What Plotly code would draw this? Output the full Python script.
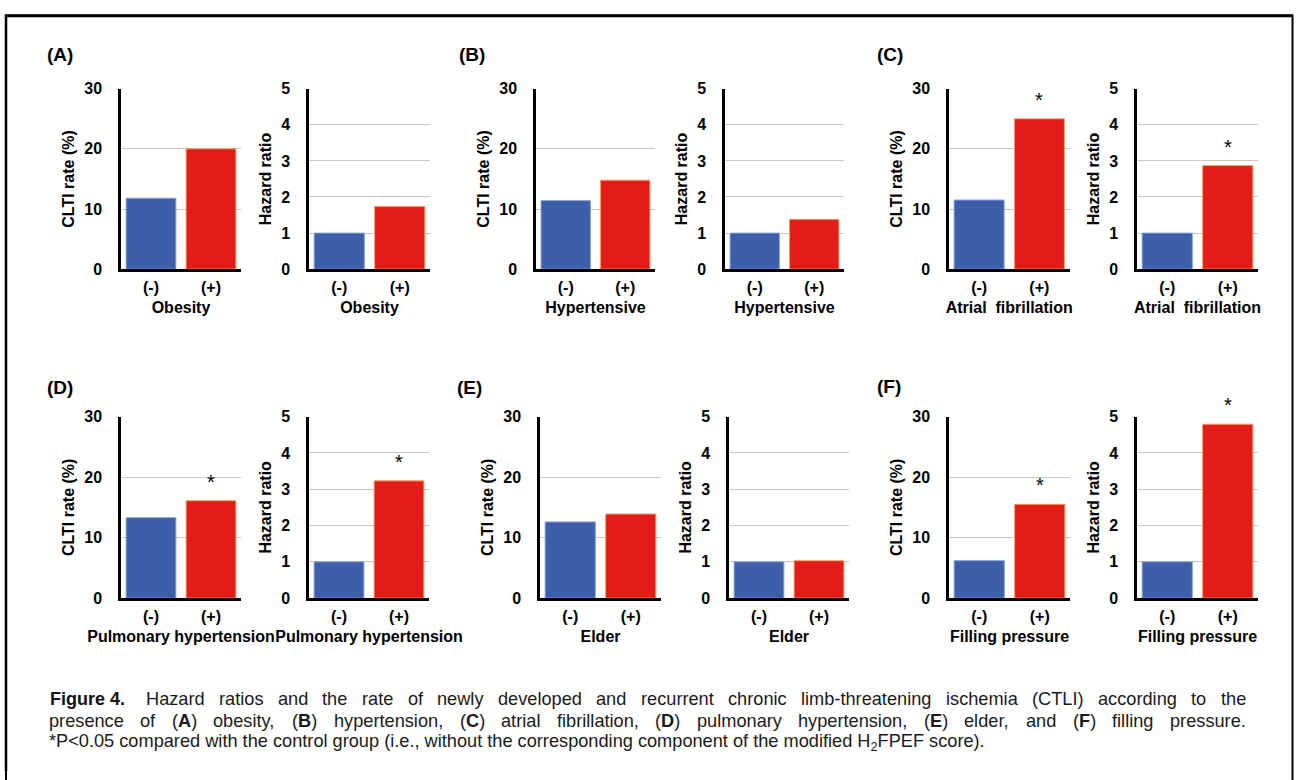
import plotly.graph_objects as go

# ---------------- data ----------------
groups = ["(-)", "(+)"]
panel_labels = ["(A)", "(B)", "(C)", "(D)", "(E)", "(F)"]
factors = ["Obesity", "Hypertensive", "Atrial  fibrillation",
           "Pulmonary hypertension", "Elder", "Filling pressure"]
clti_neg = [11.8, 11.4, 11.5, 13.3, 12.6, 6.2]
clti_pos = [20.0, 14.8, 25.0, 16.1, 13.9, 15.5]
hr_neg = [1.0, 1.0, 1.0, 1.0, 1.0, 1.0]
hr_pos = [1.74, 1.38, 2.87, 3.23, 1.03, 4.79]
clti_sig = [False, False, True, True, False, True]
hr_sig = [False, False, True, True, False, True]
clti_ticks = [0, 10, 20, 30]
hr_ticks = [0, 1, 2, 3, 4, 5]

caption_title = "<b>Figure 4.</b>"
caption_line1 = "Hazard ratios and the rate of newly developed and recurrent chronic limb-threatening ischemia (CTLI) according to the"
caption_line2 = "presence of (<b>A</b>) obesity, (<b>B</b>) hypertension, (<b>C</b>) atrial fibrillation, (<b>D</b>) pulmonary hypertension, (<b>E</b>) elder, and (<b>F</b>) filling pressure."
caption_line3 = "*P<0.05 compared with the control group (i.e., without the corresponding component of the modified H<sub>2</sub>FPEF score)."

# ---------------- layout geometry (pixels) ----------------
W, H = 1297, 780
FONT = "Liberation Sans, Arial, Helvetica, sans-serif"
BLUE = "#3d5ea8"
RED = "#e31b19"

row_y = [(82.5, 267.0), (417.7, 603.3)]
col_x = [
    [(121, 241), (309, 430)],
    [(536, 655), (725, 844)],
    [(949, 1069.5), (1137, 1258)],
    [(121, 241), (309, 429)],
    [(540, 661), (729, 849)],
    [(949, 1070), (1137, 1258)],
]
label_pos = [(45, 48), (457, 48), (875, 48), (45, 388), (455, 388), (875, 387)]


def px_x(v):
    return v / W


def px_y(v):
    return 1 - v / H


# Arial / Liberation Sans advance widths (per 1000 em) for justification
_REG = {
    ' ': 278, '!': 278, '%': 889, '(': 333, ')': 333, '*': 389, ',': 278, '-': 333,
    '.': 278, '<': 584, '0': 556, '1': 556, '2': 556, '3': 556, '4': 556, '5': 556,
    '6': 556, '7': 556, '8': 556, '9': 556, 'A': 667, 'B': 667, 'C': 722, 'D': 722,
    'E': 667, 'F': 611, 'H': 722, 'I': 278, 'L': 556, 'P': 667, 'T': 611,
    'a': 556, 'b': 556, 'c': 500, 'd': 556, 'e': 556, 'f': 278, 'g': 556, 'h': 556,
    'i': 222, 'j': 222, 'k': 500, 'l': 222, 'm': 833, 'n': 556, 'o': 556, 'p': 556,
    'q': 556, 'r': 333, 's': 500, 't': 278, 'u': 556, 'v': 500, 'w': 722, 'x': 500,
    'y': 500, 'z': 500,
}
_BOLD = {'A': 722, 'B': 722, 'C': 722, 'D': 722, 'E': 667, 'F': 611}


def word_width(word, fs):
    w = 0.0
    i = 0
    bold = False
    sub = False
    while i < len(word):
        if word.startswith("<b>", i):
            bold = True; i += 3; continue
        if word.startswith("</b>", i):
            bold = False; i += 4; continue
        if word.startswith("<sub>", i):
            sub = True; i += 5; continue
        if word.startswith("</sub>", i):
            sub = False; i += 6; continue
        ch = word[i]
        cw = (_BOLD.get(ch) if bold else None) or _REG.get(ch, 556)
        w += cw * (0.7 if sub else 1.0)
        i += 1
    return w * fs / 1000.0


fig = go.Figure()
annotations = []
layout_axes = {}
ax = 0
for p in range(6):
    ry = row_y[0] if p < 3 else row_y[1]
    for k in range(2):
        ax += 1
        xs = col_x[p][k]
        if k == 0:
            vals = [clti_neg[p], clti_pos[p]]
            sig = clti_sig[p]
            rng = [0, 30]
            tickvals = clti_ticks
            ytitle = "CLTI rate (%)"
        else:
            vals = [hr_neg[p], hr_pos[p]]
            sig = hr_sig[p]
            rng = [0, 5]
            tickvals = hr_ticks
            ytitle = "Hazard ratio"
        xa = "x" if ax == 1 else f"x{ax}"
        ya = "y" if ax == 1 else f"y{ax}"
        fig.add_trace(go.Bar(
            x=groups, y=vals, xaxis=xa, yaxis=ya,
            marker=dict(color=[BLUE, RED],
                        line=dict(color=["#8ea3d6", "#f3a25a"], width=1)),
            showlegend=False, hoverinfo="skip",
        ))
        layout_axes["xaxis" if ax == 1 else f"xaxis{ax}"] = dict(
            domain=[px_x(xs[0]), px_x(xs[1])], anchor=ya,
            type="category", range=[-0.5, 1.5],
            showline=True, linecolor="black", linewidth=2.5,
            showgrid=False, zeroline=False,
            ticks="outside", ticklen=2, tickcolor="rgba(0,0,0,0)",
            tickfont=dict(family=FONT, size=16, color="black", weight="bold"),
            title=dict(text=factors[p], standoff=7,
                       font=dict(family=FONT, size=16, color="black", weight="bold")),
            fixedrange=True,
        )
        layout_axes["yaxis" if ax == 1 else f"yaxis{ax}"] = dict(
            domain=[px_y(ry[1]), px_y(ry[0])], anchor=xa,
            range=rng, tickvals=tickvals,
            showline=True, linecolor="black", linewidth=2.5,
            showgrid=True, gridcolor="#c8c8c8", gridwidth=1.2,
            zeroline=False,
            ticks="outside", ticklen=13, tickcolor="rgba(0,0,0,0)",
            tickfont=dict(family=FONT, size=16, color="black", weight="bold"),
            title=dict(text=ytitle, standoff=6,
                       font=dict(family=FONT, size=16, color="black", weight="bold")),
            fixedrange=True,
        )
        if sig:
            annotations.append(dict(
                x=1, y=vals[1], xref=xa, yref=ya, text="*",
                showarrow=False, yanchor="middle", yshift=19,
                font=dict(family=FONT, size=20, color="black"),
            ))
    lx, ly = label_pos[p]
    annotations.append(dict(
        x=px_x(lx), y=px_y(ly), xref="paper", yref="paper",
        text=panel_labels[p], showarrow=False, xanchor="left", yanchor="middle",
        font=dict(family=FONT, size=19, color="black", weight="bold"),
    ))

# ---------------- caption ----------------
CAP_FS = 18.2
cap_font = dict(family=FONT, size=CAP_FS, color="#1a1a1a")
annotations.append(dict(x=px_x(48), y=px_y(706), xref="paper", yref="paper",
                        text=caption_title, showarrow=False, xanchor="left", yanchor="middle",
                        font=dict(family=FONT, size=18, color="#111111")))


def add_justified(text, left, right, y):
    words = text.split(" ")
    widths = [word_width(w, CAP_FS) for w in words]
    gap = (right - left - sum(widths)) / (len(words) - 1)
    x = left
    for w, wd in zip(words, widths):
        annotations.append(dict(x=px_x(x), y=px_y(y), xref="paper", yref="paper",
                                text=w, showarrow=False, xanchor="left", yanchor="middle",
                                borderpad=0, font=cap_font))
        x += wd + gap


add_justified(caption_line1, 145, 1245, 706)
add_justified(caption_line2, 48, 1245, 728.5)
annotations.append(dict(x=px_x(48), y=px_y(750.5), xref="paper", yref="paper",
                        text=caption_line3, showarrow=False, xanchor="left", yanchor="middle",
                        borderpad=0, font=cap_font))

shapes = [
    dict(type="rect", xref="paper", yref="paper", x0=px_x(6), x1=px_x(1292.5),
         y0=px_y(795), y1=px_y(8), line=dict(color="black", width=2), fillcolor="rgba(0,0,0,0)"),
    dict(type="line", xref="paper", yref="paper", x0=px_x(5), x1=px_x(1293),
         y0=px_y(8), y1=px_y(8), line=dict(color="black", width=3)),
    dict(type="line", xref="paper", yref="paper", x0=px_x(6), x1=px_x(6),
         y0=px_y(7), y1=px_y(780), line=dict(color="black", width=2.5)),
]

fig.update_layout(
    width=W, height=H,
    margin=dict(l=0, r=0, t=0, b=0),
    paper_bgcolor="white", plot_bgcolor="white",
    bargap=0.17,
    font=dict(family=FONT, color="black"),
    annotations=annotations,
    shapes=shapes,
    **layout_axes,
)

fig.write_html(
    "out.html",
    config={"displayModeBar": False},
    post_script="document.body.style.margin='0';document.body.style.padding='0';"
                "document.body.style.overflow='hidden';"
                "document.documentElement.style.overflow='hidden';",
)
